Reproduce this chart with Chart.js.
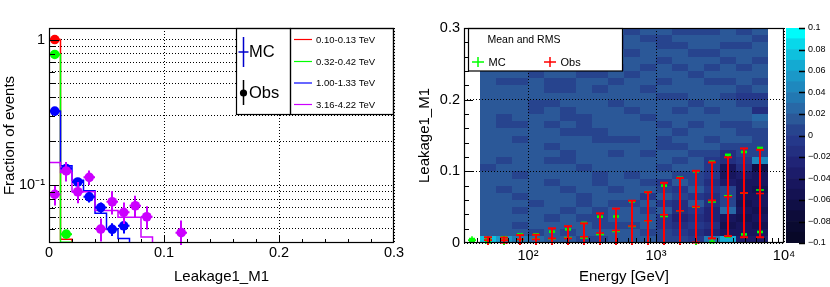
<!DOCTYPE html>
<html>
<head>
<meta charset="utf-8">
<script src="https://cdn.jsdelivr.net/npm/chart.js"></script>
<style>
  body { margin: 0; background: #fff; }
  #wrap { position: relative; width: 830px; height: 287px; }
  #wrap canvas { position: absolute; left: 0; top: 0; }
</style>
</head>
<body>
<div id="wrap">
  <canvas id="leak-chart" width="830" height="287"></canvas>
  <canvas id="energy-chart" width="830" height="287"></canvas>
  <canvas id="zbar-chart" width="830" height="287"></canvas>
</div>
<script>
// ---------- left panel: Leakage1_M1 per energy band ----------
const leakEdges = [0, 0.01, 0.02, 0.03, 0.04, 0.05, 0.06, 0.07, 0.08, 0.09, 0.1, 0.11, 0.12, 0.13, 0.14, 0.15,
                   0.16, 0.17, 0.18, 0.19, 0.2, 0.21, 0.22, 0.23, 0.24, 0.25, 0.26, 0.27, 0.28, 0.29, 0.3];
const energyBands = ['0.10-0.13 TeV', '0.32-0.42 TeV', '1.00-1.33 TeV', '3.16-4.22 TeV'];

// MC histograms (fraction per bin, 0 = empty)
const mcRed    = [0.99, 0.0425, 0, 0, 0, 0, 0, 0, 0, 0, 0, 0, 0, 0, 0, 0, 0, 0, 0, 0, 0, 0, 0, 0, 0, 0, 0, 0, 0, 0];
const mcGreen  = [0.79, 0.0405, 0, 0, 0, 0, 0, 0, 0, 0, 0, 0, 0, 0, 0, 0, 0, 0, 0, 0, 0, 0, 0, 0, 0, 0, 0, 0, 0, 0];
const mcBlue   = [0.322, 0.136, 0.108, 0.0915, 0.064, 0.050, 0.043, 0, 0, 0, 0, 0, 0, 0, 0, 0, 0, 0, 0, 0, 0, 0, 0, 0, 0, 0, 0, 0, 0, 0];
const mcViolet = [0.143, 0.122, 0.090, 0.090, 0.067, 0.067, 0.060, 0.060, 0.044, 0, 0, 0, 0, 0, 0, 0, 0, 0, 0, 0, 0, 0, 0, 0, 0, 0, 0, 0, 0, 0];

// observed points and their errors (null = below the axis)
const obsRed    = [1.0];
const errRed    = [0.01];
const obsGreen  = [0.79, 0.046];
const errGreen  = [0.008, 0.003];
const obsBlue   = [0.322, 0.130, 0.105, 0.083, 0.070, 0.0497, 0.0525];
const errBlue   = [0.008, 0.007, 0.007, 0.007, 0.006, 0.005, 0.006];
const obsViolet = [0.0863, 0.125, 0.090, 0.113, 0.0499, 0.0768, 0.065, 0.0721, 0.0606, null, null, 0.0471];
const errViolet = [0.014, 0.019, 0.015, 0.013, 0.009, 0.014, 0.011, 0.0125, 0.011, null, null, 0.010];

const leakXTicks  = [0, 0.1, 0.2, 0.3];
const leakXLabels = ['0', '0.1', '0.2', '0.3'];
const leakXMinor  = [0.02, 0.04, 0.06, 0.08, 0.12, 0.14, 0.16, 0.18, 0.22, 0.24, 0.26, 0.28];
const leakYTicks  = [0.05, 0.06, 0.07, 0.08, 0.09, 0.1, 0.2, 0.3, 0.4, 0.5, 0.6, 0.7, 0.8, 0.9, 1];
const leakYLabels = ['', '', '', '', '', '10\u207B\u00B9', '', '', '', '', '', '', '', '', '1'];
const leakYMajor  = [0.1, 1];

// ---------- right panel: Leakage1_M1 vs energy ----------
const energyEdges   = [42.17, 56.23, 74.99, 100, 133.35, 177.83, 237.14, 316.23, 421.7, 562.34,
                       749.89, 1000, 1333.5, 1778.3, 2371.4, 3162.3, 4217, 5623.4, 7498.9];
const energyCenters = [36.52, 48.70, 64.94, 86.60, 115.48, 153.99, 205.35, 273.84, 365.17, 486.97,
                       649.38, 865.96, 1154.8, 1539.9, 2053.5, 2738.4, 3651.7, 4869.7, 6493.8];
const mcMean  = [0.004, 0.004, 0.004, 0.005, 0.0055, 0.006, 0.0075, 0.007, 0.012, 0.016,
                 0.023, 0.031, 0.037, 0.045, 0.050, 0.0573, 0.066, 0.0695, 0.074];
const mcRms   = [0.0015, 0.003, 0.004, 0.007, 0.0065, 0.0098, 0.0115, 0.021, 0.0247, 0.021,
                 0.035, 0.040, 0.043, 0.046, 0.050, 0.056, 0.057, 0.0575, 0.0586];
const obsMean = [null, 0.004, 0.004, 0.005, 0.005, 0.0065, 0.0065, 0.0088, 0.014, 0.0175,
                 0.0237, 0.031, 0.0395, 0.045, 0.0507, 0.0595, 0.0646, 0.070, 0.069];
const obsRms  = [null, 0.004, 0.0035, 0.006, 0.0065, 0.014, 0.017, 0.0186, 0.0274, 0.0305,
                 0.0353, 0.040, 0.0445, 0.0457, 0.050, 0.053, 0.055, 0.062, 0.061];

// difference map, one string per Leakage bin (top row = 0.29-0.30), one char per energy bin
// char index in heatCodes -> value (index - 10) / 100 + 0.005
const heatCodes = '0123456789ABCDEFGHIJ';
const heatRows = [
  'BABBABBABABBAAABAB',
  'ABBABBABABAABBBBBA',
  'BBABBABBABBAABBAAB',
  'BABBBABBBABBBAABBB',
  'BBBABBABBBBABBBABA',
  'ABBBABBBABABABABAB',
  'BBBABBAABABBBABBBB',
  'BAABAABBABBABBAABA',
  'BBBBAABABBABBBBBAB',
  'BBBBBBBBBBBAABBA99',
  'BBBAABBBABBBBABBAA',
  'BBBABABBBABBABABB8',
  'BABBBAABBBABBBBBBC',
  'BAABABABBBBABABAAB',
  'BBBBBAAABBBBABBBAA',
  'BBABBBBAAABABBABBA',
  'BBBBABBBBBBAABBAAA',
  'BBBBBABBABABBAA8AA',
  'BABBAABBBBBBAB989E',
  'ABBBBBABBBBABB9583',
  'BBABBBBABABBAA9565',
  'BBBBABBABBA9BA8655',
  'BABBBABBABBA9B9A54',
  'BBABBBABBB9BA98A55',
  'BBBABBABAAB98B8A45',
  'BBABBABABBAB897C54',
  'BBBBABAABBB9787545',
  'BBABBBBAAAB9898454',
  'BBBABABBBBAA987555',
  'HFDCBBAABBBAA9DG66'
];

const energyXTicks  = [100, 1000, 10000];
const energyXLabels = ['10\u00B2', '10\u00B3', '10\u2074'];
const energyXMinor  = [40, 50, 60, 70, 80, 90, 200, 300, 400, 500, 600, 700, 800, 900,
                       2000, 3000, 4000, 5000, 6000, 7000, 8000, 9000];
const rightYTicks   = [0, 0.1, 0.2, 0.3];
const rightYLabels  = ['0', '0.1', '0.2', '0.3'];
const rightYMinor   = [0.02, 0.04, 0.06, 0.08, 0.12, 0.14, 0.16, 0.18, 0.22, 0.24, 0.26, 0.28];

const zLevels = [-0.1, -0.09, -0.08, -0.07, -0.06, -0.05, -0.04, -0.03, -0.02, -0.01, 0,
                 0.01, 0.02, 0.03, 0.04, 0.05, 0.06, 0.07, 0.08, 0.09, 0.1];
const zTicks  = [-0.1, -0.08, -0.06, -0.04, -0.02, 0, 0.02, 0.04, 0.06, 0.08, 0.1];
const zLabels = ['\u22120.1', '\u22120.08', '\u22120.06', '\u22120.04', '\u22120.02', '0',
                 '0.02', '0.04', '0.06', '0.08', '0.1'];

// styles
const bandColors = ['#ff0000', '#00ff00', '#0000ff', '#cc00ff'];
const palette = ['#080828', '#0a0a30', '#0d0c3a', '#100f46', '#141252', '#18165e', '#1c1c6a',
                 '#202476', '#232f80', '#25388a', '#27448e', '#2b5898', '#2868a6', '#2278b2',
                 '#1e88be', '#1a98c8', '#14aad2', '#0ec0de', '#08d8ea', '#00fbfb'];
const fontFamily = "'Liberation Sans', Arial, Helvetica, sans-serif";
const leakYMin = 0.04;

Chart.defaults.font.family = fontFamily;
Chart.defaults.font.size = 14.5;
Chart.defaults.color = '#000';

function levelColor(v) {
  let k = Math.floor((v + 0.1) / 0.01);
  k = Math.max(0, Math.min(palette.length - 1, k));
  return palette[k];
}

function histPoints(vals) {
  const pts = vals.map((v, i) => ({ x: leakEdges[i], y: Math.max(v, leakYMin) }));
  pts.push({ x: leakEdges[vals.length], y: Math.max(vals[vals.length - 1], leakYMin) });
  return pts;
}

function obsPoints(vals, errs) {
  const pts = [];
  vals.forEach((v, i) => {
    if (v == null) return;
    pts.push({ x: (leakEdges[i] + leakEdges[i + 1]) / 2, y: v, e: errs[i] });
  });
  return pts;
}

function meanPoints(means, rms) {
  const pts = [];
  means.forEach((m, i) => {
    if (m == null) return;
    pts.push({ x: energyCenters[i], y: m, e: rms[i] });
  });
  return pts;
}

// error bars, drawn just below each dataset's markers
const errorBars = {
  id: 'errorBars',
  beforeDatasetDraw(chart, args) {
    const ds = chart.data.datasets[args.index];
    const st = ds.errorStyle;
    if (!st) return;
    const { ctx, chartArea: a, scales: { x, y } } = chart;
    ctx.save();
    ctx.beginPath();
    ctx.rect(a.left, a.top - 2, a.right - a.left, a.bottom - a.top + 4);
    ctx.clip();
    ctx.strokeStyle = st.color;
    ctx.fillStyle = st.color;
    ctx.lineWidth = st.width;
    ds.data.forEach(p => {
      const px = Math.round(x.getPixelForValue(p.x));
      const py = y.getPixelForValue(p.y);
      const top = y.getPixelForValue(p.y + p.e);
      const low = p.y - p.e;
      const bot = low > 0 ? y.getPixelForValue(low) : a.bottom + 10;
      ctx.beginPath();
      ctx.moveTo(px, top);
      ctx.lineTo(px, bot);
      if (st.halfBin) {
        ctx.moveTo(x.getPixelForValue(p.x - st.halfBin), py);
        ctx.lineTo(x.getPixelForValue(p.x + st.halfBin), py);
      }
      ctx.stroke();
      if (st.cap) {
        [top, bot].forEach(cy => {
          if (cy < a.top - 1 || cy > a.bottom) return;
          if (st.cap === 'block') {
            ctx.fillRect(px - 3, cy - 1.3, 6, 2.6);
          } else {
            ctx.beginPath();
            ctx.moveTo(px - 4, cy);
            ctx.lineTo(px + 4, cy);
            ctx.stroke();
          }
        });
      }
    });
    ctx.restore();
  }
};

function drawFrameTicks(chart, xMajor, xMinor, yMajor, yMinor, majLen, minLen) {
  const { ctx, chartArea: a, scales: { x, y } } = chart;
  ctx.save();
  ctx.strokeStyle = '#000';
  ctx.lineWidth = 1;
  ctx.beginPath();
  const xt = (list, len) => list.forEach(v => {
    const px = Math.round(x.getPixelForValue(v)) + 0.5;
    ctx.moveTo(px, a.bottom);
    ctx.lineTo(px, a.bottom - len);
  });
  const yt = (list, len) => list.forEach(v => {
    const py = Math.round(y.getPixelForValue(v)) + 0.5;
    ctx.moveTo(a.left, py);
    ctx.lineTo(a.left + len, py);
  });
  xt(xMajor, majLen[0]); xt(xMinor, minLen[0]);
  yt(yMajor, majLen[1]); yt(yMinor, minLen[1]);
  ctx.stroke();
  ctx.lineWidth = 1.2;
  ctx.strokeRect(Math.round(a.left) + 0.5, Math.round(a.top) + 0.5,
                 Math.round(a.right - a.left) - 1, Math.round(a.bottom - a.top) - 1);
  ctx.restore();
}

function plusMark(ctx, cx, cy, w, h) {
  ctx.beginPath();
  ctx.moveTo(cx - w, cy); ctx.lineTo(cx + w, cy);
  ctx.moveTo(cx, cy - h); ctx.lineTo(cx, cy + h);
  ctx.stroke();
}

const leakDecor = {
  id: 'leakDecor',
  afterDraw(chart) {
    const ctx = chart.ctx;
    // legend boxes
    ctx.save();
    ctx.fillStyle = '#fff';
    ctx.strokeStyle = '#000';
    ctx.lineWidth = 1.2;
    ctx.fillRect(236.5, 28.5, 157, 86);
    ctx.strokeRect(236.5, 28.5, 54, 86);
    ctx.strokeRect(290.5, 28.5, 103, 86);
    ctx.lineWidth = 1.5;
    ctx.strokeStyle = '#0000cc';
    plusMark(ctx, 243.5, 52, 5, 15);
    ctx.strokeStyle = '#000';
    ctx.beginPath(); ctx.moveTo(243.5, 80); ctx.lineTo(243.5, 105); ctx.stroke();
    ctx.fillStyle = '#000';
    ctx.beginPath(); ctx.arc(243.5, 93, 3.6, 0, 2 * Math.PI); ctx.fill();
    ctx.font = '16.5px ' + fontFamily;
    ctx.textBaseline = 'middle';
    ctx.textAlign = 'left';
    ctx.fillText('MC', 249, 52);
    ctx.fillText('Obs', 249, 93.5);
    ctx.font = '9.5px ' + fontFamily;
    const rowsY = [39.5, 61.5, 83, 104.5];
    energyBands.forEach((label, i) => {
      ctx.strokeStyle = bandColors[i];
      ctx.lineWidth = 1.2;
      ctx.beginPath(); ctx.moveTo(294, rowsY[i]); ctx.lineTo(312, rowsY[i]); ctx.stroke();
      ctx.fillStyle = '#000';
      ctx.fillText(label, 316, rowsY[i] + 0.5);
    });
    ctx.restore();
    drawFrameTicks(chart, [0.1, 0.2], leakXMinor, leakYMajor,
                   leakYTicks.filter(v => leakYMajor.indexOf(v) < 0), [8, 10], [4, 6]);
  }
};

const heatMap = {
  id: 'heatMap',
  beforeDraw(chart) {
    const { ctx, scales: { x, y } } = chart;
    ctx.save();
    const nRows = heatRows.length;
    heatRows.forEach((row, r) => {
      const j = nRows - 1 - r;
      const y0 = Math.round(y.getPixelForValue((j + 1) / 100));
      const y1 = Math.round(y.getPixelForValue(j / 100));
      for (let c = 0; c < row.length; c++) {
        const v = (heatCodes.indexOf(row[c]) - 10) / 100 + 0.005;
        const x0 = Math.round(x.getPixelForValue(energyEdges[c]));
        const x1 = Math.round(x.getPixelForValue(energyEdges[c + 1]));
        ctx.fillStyle = levelColor(v);
        ctx.fillRect(x0, y0, x1 - x0, y1 - y0);
      }
    });
    ctx.restore();
  }
};

const energyDecor = {
  id: 'energyDecor',
  afterDraw(chart) {
    const ctx = chart.ctx;
    ctx.save();
    ctx.fillStyle = '#fff';
    ctx.strokeStyle = '#000';
    ctx.lineWidth = 1.2;
    ctx.fillRect(468.5, 28.5, 154, 42.5);
    ctx.strokeRect(468.5, 28.5, 154, 42.5);
    ctx.fillStyle = '#000';
    ctx.font = '10.5px ' + fontFamily;
    ctx.textBaseline = 'middle';
    ctx.textAlign = 'left';
    ctx.fillText('Mean and RMS', 487.5, 40.5);
    ctx.font = '11px ' + fontFamily;
    ctx.fillText('MC', 488.5, 62.5);
    ctx.fillText('Obs', 560.5, 62.5);
    ctx.lineWidth = 1.5;
    ctx.strokeStyle = '#00ff00';
    plusMark(ctx, 478, 62, 6, 5);
    ctx.strokeStyle = '#ff0000';
    plusMark(ctx, 550, 62, 6, 5);
    ctx.restore();
    drawFrameTicks(chart, [100, 1000], energyXMinor, [0.1, 0.2], rightYMinor, [9, 9], [5, 5]);
  }
};

const zBarTicks = {
  id: 'zBarTicks',
  afterDraw(chart) {
    const { ctx, chartArea: a, scales: { y } } = chart;
    ctx.save();
    ctx.strokeStyle = '#000';
    ctx.lineWidth = 1.5;
    ctx.beginPath();
    zTicks.forEach(v => {
      const py = Math.round(y.getPixelForValue(v)) + 0.5;
      ctx.moveTo(a.right - 6, py);
      ctx.lineTo(a.right, py);
    });
    ctx.stroke();
    ctx.restore();
  }
};

// ---------- left chart ----------
const leakDatasets = [];
[mcRed, mcGreen, mcBlue, mcViolet].forEach((vals, i) => {
  leakDatasets.push({
    data: histPoints(vals),
    borderColor: bandColors[i],
    borderWidth: 1.5,
    stepped: true,
    pointRadius: 0,
    fill: false
  });
});
[[obsRed, errRed], [obsGreen, errGreen], [obsBlue, errBlue], [obsViolet, errViolet]].forEach((pair, i) => {
  leakDatasets.push({
    data: obsPoints(pair[0], pair[1]),
    showLine: false,
    pointRadius: 4.8,
    pointHoverRadius: 4.8,
    pointBackgroundColor: bandColors[i],
    pointBorderWidth: 0,
    borderColor: bandColors[i],
    errorStyle: { color: bandColors[i], width: 2, halfBin: 0.005 }
  });
});
leakDatasets.forEach((d, i) => { d.order = 100 - i; });

new Chart(document.getElementById('leak-chart'), {
  type: 'line',
  data: { datasets: leakDatasets },
  options: {
    animation: false,
    responsive: false,
    events: [],
    layout: { padding: { left: 0, right: 436, top: 28, bottom: 0 } },
    plugins: { legend: { display: false }, tooltip: { enabled: false } },
    scales: {
      x: {
        type: 'linear', min: 0, max: 0.3,
        afterBuildTicks: s => { s.ticks = leakXTicks.map(v => ({ value: v })); },
        afterFit: s => { s.height = 44; },
        grid: { color: '#000', lineWidth: 1, drawTicks: false },
        border: { display: false, dash: [1, 2] },
        ticks: { padding: 1, autoSkip: false, maxRotation: 0, callback: (v, i) => leakXLabels[i] },
        title: { display: true, text: 'Leakage1_M1', font: { size: 15 }, padding: { top: 0, bottom: 1.5 } }
      },
      y: {
        type: 'logarithmic', min: leakYMin, max: 1.2,
        afterBuildTicks: s => { s.ticks = leakYTicks.map(v => ({ value: v })); },
        afterFit: s => { s.width = 49; },
        grid: { color: '#000', lineWidth: 1, drawTicks: false },
        border: { display: false, dash: [1, 2] },
        ticks: { padding: 4, autoSkip: false, callback: (v, i) => leakYLabels[i] },
        title: { display: true, text: 'Fraction of events', font: { size: 15 }, padding: { top: 1, bottom: 0 } }
      }
    }
  },
  plugins: [errorBars, leakDecor]
});

// ---------- right chart ----------
new Chart(document.getElementById('energy-chart'), {
  type: 'scatter',
  data: {
    datasets: [
      {
        data: meanPoints(mcMean, mcRms),
        pointStyle: 'cross', pointRadius: 4, pointHoverRadius: 4,
        borderColor: '#00ff00', pointBorderWidth: 1.6,
        errorStyle: { color: '#00ff00', width: 2, cap: 'block' },
        order: 2
      },
      {
        data: meanPoints(obsMean, obsRms),
        pointStyle: 'cross', pointRadius: 4, pointHoverRadius: 4,
        borderColor: '#ff0000', pointBorderWidth: 1.6,
        errorStyle: { color: '#ff0000', width: 2, cap: 'line' },
        order: 1
      }
    ]
  },
  options: {
    animation: false,
    responsive: false,
    events: [],
    layout: { padding: { left: 415, right: 46, top: 28, bottom: 0 } },
    plugins: { legend: { display: false }, tooltip: { enabled: false } },
    scales: {
      x: {
        type: 'logarithmic', min: 31.62, max: 10000,
        afterBuildTicks: s => { s.ticks = energyXTicks.map(v => ({ value: v })); },
        afterFit: s => { s.height = 44; },
        grid: { color: '#000', lineWidth: 1, drawTicks: false },
        border: { display: false, dash: [1, 2] },
        ticks: { padding: 4, autoSkip: false, maxRotation: 0, callback: (v, i) => energyXLabels[i] },
        title: { display: true, text: 'Energy [GeV]', font: { size: 15 }, padding: { top: 0, bottom: 1.5 } }
      },
      y: {
        type: 'linear', min: 0, max: 0.3,
        afterBuildTicks: s => { s.ticks = rightYTicks.map(v => ({ value: v })); },
        afterFit: s => { s.width = 49; },
        grid: { color: '#000', lineWidth: 1, drawTicks: false },
        border: { display: false, dash: [1, 2] },
        ticks: { padding: 4, autoSkip: false, callback: (v, i) => rightYLabels[i] },
        title: { display: true, text: 'Leakage1_M1', font: { size: 15 }, padding: { top: 1, bottom: 0 } }
      }
    }
  },
  plugins: [heatMap, errorBars, energyDecor]
});

// ---------- colour scale ----------
new Chart(document.getElementById('zbar-chart'), {
  type: 'bar',
  data: {
    labels: [''],
    datasets: palette.map((col, k) => ({
      data: [[zLevels[k], zLevels[k + 1]]],
      backgroundColor: col,
      borderWidth: 0,
      grouped: false,
      barPercentage: 1,
      categoryPercentage: 1
    }))
  },
  options: {
    animation: false,
    responsive: false,
    events: [],
    layout: { padding: { left: 786, right: 0, top: 28, bottom: 44 } },
    plugins: { legend: { display: false }, tooltip: { enabled: false } },
    scales: {
      x: { display: false },
      y: {
        position: 'right', min: -0.1, max: 0.1,
        afterBuildTicks: s => { s.ticks = zTicks.map(v => ({ value: v })); },
        afterFit: s => { s.width = 25; },
        grid: { display: false, drawTicks: false },
        border: { display: false },
        ticks: { padding: 3, autoSkip: false, font: { size: 9 }, callback: (v, i) => zLabels[i] }
      }
    }
  },
  plugins: [zBarTicks]
});
</script>
</body>
</html>
